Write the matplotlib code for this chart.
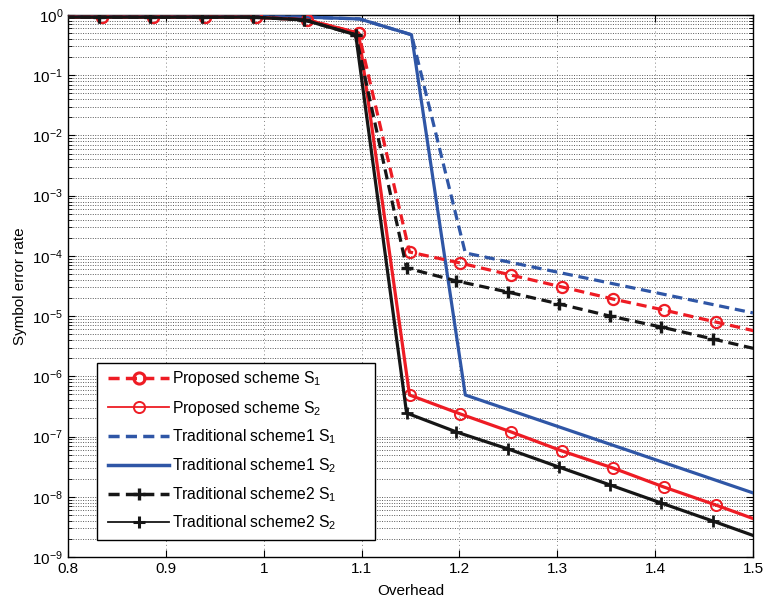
import matplotlib
matplotlib.use('Agg')
import matplotlib.pyplot as plt
from matplotlib.lines import Line2D
from matplotlib.patches import Rectangle
from matplotlib.ticker import LogLocator, NullFormatter
import numpy as np

plt.rcParams['font.family'] = ['Liberation Sans', 'DejaVu Sans']
plt.rcParams['mathtext.fontset'] = 'custom'
plt.rcParams['mathtext.rm'] = 'Liberation Sans'
plt.rcParams['mathtext.it'] = 'Liberation Sans:italic'
plt.rcParams['mathtext.bf'] = 'Liberation Sans:bold'

# ---------------- data ----------------
x_prop = [0.783, 0.835, 0.887, 0.940, 0.992, 1.044, 1.097, 1.149, 1.201,
          1.253, 1.305, 1.357, 1.409, 1.462, 1.514]
prop_s1 = [0.92, 0.92, 0.92, 0.92, 0.92, 0.83, 0.50, 1.16e-4, 7.6e-5,
           4.8e-5, 3.04e-5, 1.92e-5, 1.26e-5, 7.98e-6, 5.1e-6]
prop_s2 = [0.92, 0.92, 0.92, 0.92, 0.92, 0.83, 0.50, 4.9e-7, 2.37e-7,
           1.19e-7, 5.75e-8, 3.0e-8, 1.45e-8, 7.3e-9, 3.6e-9]

x_trad2 = [0.780, 0.832, 0.884, 0.937, 0.989, 1.041, 1.094, 1.146, 1.197,
           1.250, 1.302, 1.354, 1.406, 1.459, 1.511]
trad2_s1 = [0.92, 0.92, 0.92, 0.92, 0.92, 0.83, 0.47, 6.3e-5, 3.83e-5,
            2.5e-5, 1.59e-5, 1.0e-5, 6.6e-6, 4.17e-6, 2.66e-6]
trad2_s2 = [0.92, 0.92, 0.92, 0.92, 0.92, 0.83, 0.47, 2.46e-7, 1.19e-7,
            6.2e-8, 3.1e-8, 1.57e-8, 7.9e-9, 3.95e-9, 1.97e-9]

x_trad1 = [0.783, 0.835, 0.887, 0.940, 0.992, 1.044, 1.098, 1.151, 1.206, 1.5]
trad1_s1 = [0.93, 0.93, 0.93, 0.93, 0.93, 0.92, 0.86, 0.47, 1.12e-4, 1.13e-5]
trad1_s2 = [0.93, 0.93, 0.93, 0.93, 0.93, 0.92, 0.86, 0.47, 4.9e-7, 1.16e-8]

labels = ['Proposed scheme S$_1$', 'Proposed scheme S$_2$',
          'Traditional scheme1 S$_1$', 'Traditional scheme1 S$_2$',
          'Traditional scheme2 S$_1$', 'Traditional scheme2 S$_2$']
xticks = [0.8, 0.9, 1.0, 1.1, 1.2, 1.3, 1.4, 1.5]
xticklabels = ['0.8', '0.9', '1', '1.1', '1.2', '1.3', '1.4', '1.5']

RED = '#ee1c24'
BLUE = '#2f56a6'
BLACK = '#161616'
DASH = (3.2, 1.8)

fig = plt.figure(figsize=(7.65, 6.01), dpi=100)
ax = fig.add_axes([68/765, 1 - 557/601, 685/765, 542/601])

lw = 2.3
ax.plot(x_trad1, trad1_s1, color=BLUE, lw=lw, dashes=DASH, zorder=3)
ax.plot(x_trad1, trad1_s2, color=BLUE, lw=lw, zorder=3)
ax.plot(x_prop, prop_s1, color=RED, lw=lw, dashes=DASH, marker='o', ms=8,
        mfc='none', mew=1.6, zorder=4)
ax.plot(x_prop, prop_s2, color=RED, lw=lw, marker='o', ms=8,
        mfc='none', mew=1.4, zorder=4)
ax.plot(x_trad2, trad2_s1, color=BLACK, lw=lw, dashes=DASH, marker='+', ms=9,
        mew=2.4, zorder=5)
ax.plot(x_trad2, trad2_s2, color=BLACK, lw=lw, marker='+', ms=9,
        mew=2.0, zorder=5)

ax.set_yscale('log')
ax.set_xlim(0.8, 1.5)
ax.set_ylim(1e-9, 1)
ax.set_yticks([10.0**(-k) for k in range(10)])
ax.yaxis.set_minor_locator(LogLocator(base=10, subs=np.arange(2, 10), numticks=100))
ax.yaxis.set_minor_formatter(NullFormatter())
ax.set_xticks(xticks)
ax.set_xticklabels(xticklabels)

ax.grid(True, which='major', axis='y', linestyle=(0, (1, 1.5)), color='0.35', lw=0.7)
ax.grid(True, which='minor', axis='y', linestyle=(0, (1, 1.5)), color='0.35', lw=0.7)
ax.grid(True, which='major', axis='x', linestyle=(0, (1, 3)), color='0.5', lw=0.7)

ax.tick_params(which='both', direction='in', top=True, right=True, labelsize=11)
ax.tick_params(which='major', length=5, width=0.8)
ax.tick_params(which='minor', length=3, width=0.6)
for s in ax.spines.values():
    s.set_linewidth(1.0)

ax.set_xlabel('Overhead', fontsize=11, labelpad=6)
ax.set_ylabel('Symbol error rate', fontsize=11, labelpad=4)

# legend box (frame drawn separately to match reference width)
box = Rectangle((0.042, 0.031), 0.406, 0.327, transform=ax.transAxes,
                facecolor='white', edgecolor='black', lw=1.0, zorder=10)
ax.add_patch(box)

handles = [
    Line2D([], [], color=RED, lw=2.5, dashes=DASH, marker='o', ms=8, mfc='none', mew=2.2),
    Line2D([], [], color=RED, lw=1.3, marker='o', ms=8, mfc='none', mew=1.4),
    Line2D([], [], color=BLUE, lw=2.5, dashes=DASH),
    Line2D([], [], color=BLUE, lw=2.5),
    Line2D([], [], color=BLACK, lw=2.5, dashes=DASH, marker='+', ms=9, mew=2.4),
    Line2D([], [], color=BLACK, lw=1.3, marker='+', ms=9, mew=2.2),
]
leg = ax.legend(handles, labels, loc='upper left', bbox_to_anchor=(0.0584, 0.346),
                borderaxespad=0, borderpad=0, fontsize=11.3, handlelength=3.9,
                handletextpad=0.15, labelspacing=0.64, frameon=False)
leg.set_zorder(11)

fig.savefig('out.png', dpi=100)
